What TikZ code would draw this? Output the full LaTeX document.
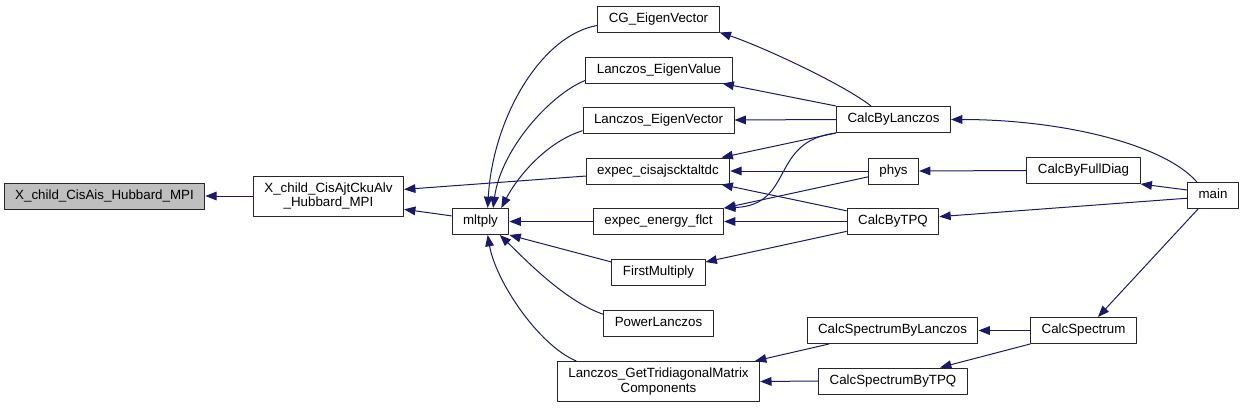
\documentclass[tikz,border=0pt]{standalone}
\usepackage{fontspec}
\setmainfont{Liberation Sans}
\usetikzlibrary{arrows.meta}
\definecolor{callblue}{HTML}{191970}
\begin{document}
\begin{tikzpicture}[x=0.75pt, y=-0.75pt, line join=round,
	box/.style={draw=black!85, line width=0.75pt, inner xsep=8.25pt, inner ysep=0pt, font=\fontsize{10pt}{11pt}\selectfont},
	fn/.style={box, minimum height=19.5pt, text height=7.2pt, text depth=2.1pt},
	fnn/.style={box, minimum height=30pt, align=center},
	calls/.style={-{Triangle[length=8.5pt,width=6.5pt]}, draw=callblue, fill=none, line width=0.75pt}]
	\useasboundingbox (0,0) rectangle (1244,407);
	% left part
	\node[fn, fill=gray!50] (cisais) at (104.5,196) {X\_child\_CisAis\_Hubbard\_MPI};
	\node[fnn] (cisajt) at (328.5,196) {X\_child\_CisAjtCkuAlv\\\_Hubbard\_MPI};
	\node[fn] (mltply) at (480.5,221.5) {mltply};
	% callers of mltply
	\node[fn] (cgvec) at (658.5,19) {CG\_EigenVector};
	\node[fn] (lanval) at (659,70) {Lanczos\_EigenValue};
	\node[fn] (lanvec) at (658.5,120) {Lanczos\_EigenVector};
	\node[fn] (cisaj) at (658,171) {expec\_cisajscktaltdc};
	\node[fn] (energy) at (658.5,221.5) {expec\_energy\_flct};
	\node[fn] (firstm) at (658.5,272) {FirstMultiply};
	\node[fn] (powerl) at (658.5,323) {PowerLanczos};
	\node[fnn] (tridiag) at (658.5,381.5) {Lanczos\_GetTridiagonalMatrix\\Components};
	% next level
	\node[fn] (bylanczos) at (893.5,119.5) {CalcByLanczos};
	\node[fn] (phys) at (893.5,171) {phys};
	\node[fn] (bytpq) at (893,221.5) {CalcByTPQ};
	\node[fn] (speclan) at (892.5,330.5) {CalcSpectrumByLanczos};
	\node[fn] (spectpq) at (893,381) {CalcSpectrumByTPQ};
	\node[fn] (fulldiag) at (1083.5,170.5) {CalcByFullDiag};
	\node[fn] (spectrum) at (1083.5,330.5) {CalcSpectrum};
	\node[fn] (main) at (1213,195.5) {main};
	% edges, caller -> callee
	\draw[calls] (cisajt.west) -- (cisais.east);
	\draw[calls] (cisaj.184) -- (cisajt.5);
	\draw[calls] (mltply.169) -- (cisajt.-10);
	\draw[calls] (cgvec.186) .. controls +(-57,10) and +(5,-89) .. (mltply.62);
	\draw[calls] (lanval.188) .. controls +(-35,14) and +(8,-59) .. (mltply.47);
	\draw[calls] (lanvec.188) .. controls +(-38,12) and +(15,-29) .. (mltply.33);
	\draw[calls] (energy.west) -- (mltply.east);
	\draw[calls] (firstm.168) -- (mltply.south east);
	\draw[calls] (powerl.171) .. controls +(-39,-13) and +(22,21) .. (mltply.-35);
	\draw[calls] (tridiag.166) .. controls +(-38,-16) and +(8,46) .. (mltply.-62);
	\draw[calls] (bylanczos.149) .. controls +(-28,-22) and +(40,13) .. (cgvec.south east);
	\draw[calls] (bylanczos.north west) -- (lanval.-12);
	\draw[calls] (bylanczos.west) -- (lanvec.east);
	\draw[calls] (bylanczos.south west) -- (cisaj.12);
	\draw[calls] (bylanczos.south west) .. controls +(-67,8) and +(71,-3) .. (energy.north east);
	\draw[calls] (phys.west) -- (cisaj.east);
	\draw[calls] (phys.193) -- (energy.north east);
	\draw[calls] (bytpq.167) -- (cisaj.-12);
	\draw[calls] (bytpq.west) -- (energy.east);
	\draw[calls] (bytpq.192) -- (firstm.12);
	\draw[calls] (fulldiag.west) -- (phys.east);
	\draw[calls] (main.140) .. controls +(-33,-38) and +(110,0) .. (bylanczos.east);
	\draw[calls] (main.168) -- (fulldiag.south east);
	\draw[calls] (main.186) -- (bytpq.6);
	\draw[calls] (main.222) -- (spectrum.43);
	\draw[calls] (spectrum.west) -- (speclan.east);
	\draw[calls] (spectrum.south west) -- (spectpq.16);
	\draw[calls] (speclan.192) -- (tridiag.12);
	\draw[calls] (spectpq.west) -- (tridiag.east);
\end{tikzpicture}
\end{document}
